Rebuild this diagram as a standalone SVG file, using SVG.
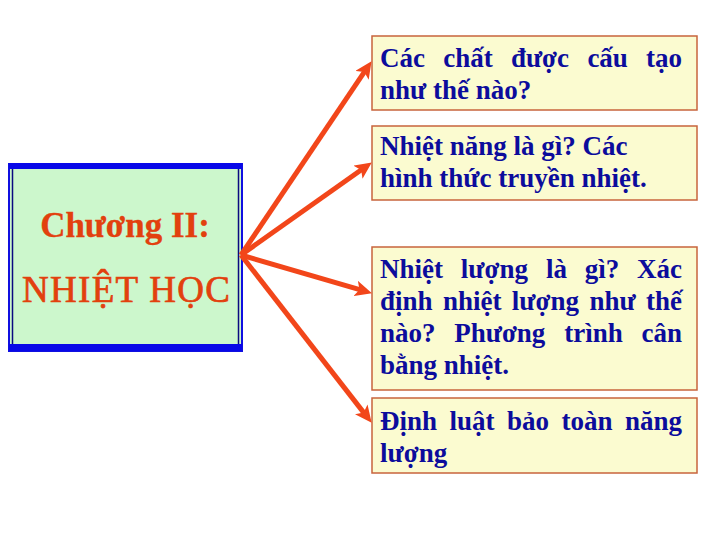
<svg xmlns="http://www.w3.org/2000/svg" width="720" height="540" viewBox="0 0 720 540">
<style>
.q{fill:#fbfbd0;stroke:#c8643c;stroke-width:1.5}
.t{font-family:"Liberation Serif","Times New Roman",serif;font-weight:bold;font-size:27px;fill:#0c0c9c}
.r{font-family:"Liberation Serif","Times New Roman",serif;fill:#e2400e;stroke:#e2400e}
.a{stroke:#f2461a;stroke-width:5;fill:none;marker-end:url(#ah)}
</style>
<defs>
<marker id="ah" markerUnits="userSpaceOnUse" viewBox="0 -8 17 16" markerWidth="17" markerHeight="16" refX="6" refY="0" orient="auto">
<path d="M0,-8 L17,0 L0,8 L4,0 z" fill="#f2461a"/>
</marker>
</defs>
<rect width="720" height="540" fill="#ffffff"/>
<g id="chuong">
<rect x="9" y="164" width="233" height="187" fill="#ccf7cc"/>
<rect x="9" y="164" width="233" height="187" fill="none" stroke="#1010e0" stroke-width="2"/>
<rect x="12.5" y="168" width="226" height="179" fill="none" stroke="#0a0a80" stroke-width="1.5"/>
<rect x="9" y="163" width="233" height="6" fill="#0808e8"/>
<rect x="9" y="344" width="233" height="7" fill="#0808e8"/>
<text class="r" x="125" y="237" font-size="35" font-weight="bold" stroke-width="0.3" text-anchor="middle">Chương II:</text>
<text class="r" x="22" y="302" font-size="37" stroke-width="0.7" textLength="208" lengthAdjust="spacing">NHIỆT HỌC</text>
</g>
<g id="q1">
<rect class="q" x="372" y="36" width="325" height="74"/>
<text class="t" y="67"><tspan x="380">Các</tspan><tspan x="443.2">chất</tspan><tspan x="510.9">được</tspan><tspan x="587.4">cấu</tspan><tspan x="682" text-anchor="end">tạo</tspan></text>
<text class="t" x="380" y="99">như thế nào?</text>
</g>
<g id="q2">
<rect class="q" x="372" y="126" width="325" height="74"/>
<text class="t" x="380" y="155">Nhiệt năng là gì? Các</text>
<text class="t" x="380" y="187">hình thức truyền nhiệt.</text>
</g>
<g id="q3">
<rect class="q" x="372" y="247" width="325" height="143"/>
<text class="t" y="278"><tspan x="380">Nhiệt</tspan><tspan x="460.8">lượng</tspan><tspan x="545.9">là</tspan><tspan x="584.7">gì?</tspan><tspan x="682" text-anchor="end">Xác</tspan></text>
<text class="t" y="310"><tspan x="380">định</tspan><tspan x="442.9">nhiệt</tspan><tspan x="511.8">lượng</tspan><tspan x="589.5">như</tspan><tspan x="682" text-anchor="end">thế</tspan></text>
<text class="t" y="342"><tspan x="380">nào?</tspan><tspan x="454.2">Phương</tspan><tspan x="564.2">trình</tspan><tspan x="682" text-anchor="end">cân</tspan></text>
<text class="t" x="380" y="374">bằng nhiệt.</text>
</g>
<g id="q4">
<rect class="q" x="372" y="398" width="325" height="75"/>
<text class="t" y="430"><tspan x="380">Định</tspan><tspan x="449.5">luật</tspan><tspan x="507">bảo</tspan><tspan x="561.5">toàn</tspan><tspan x="682" text-anchor="end">năng</tspan></text>
<text class="t" x="380" y="462">lượng</text>
</g>
<g id="connectors">
<line class="a" x1="241" y1="255" x2="365.4" y2="70.3"/>
<line class="a" x1="241" y1="255" x2="362.8" y2="168.8"/>
<line class="a" x1="241" y1="255" x2="361.4" y2="290.2"/>
<line class="a" x1="241" y1="255" x2="364.9" y2="414.1"/>
</g>
</svg>
